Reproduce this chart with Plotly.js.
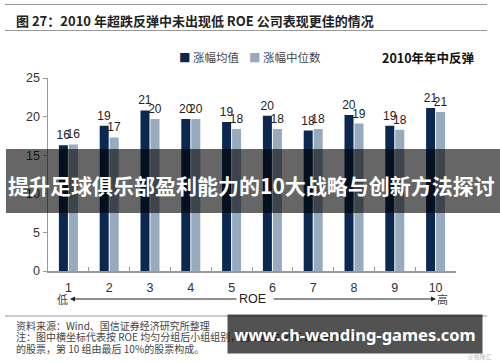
<!DOCTYPE html>
<html>
<head>
<meta charset="utf-8">
<script src="https://cdn.plot.ly/plotly-3.0.1.min.js"></script>
<style>html,body{margin:0;padding:0;background:#fff;}#chart{width:500px;height:362px;}</style>
</head>
<body>
<div id="chart"></div>
<script>
// ---- data ----
const categories = ['1','2','3','4','5','6','7','8','9','10'];
const meanGain   = [16.3, 18.8, 20.8, 19.7, 19.3, 20.1, 18.2, 20.2, 18.8, 21.1];
const medianGain = [16.4, 17.3, 19.7, 19.7, 18.4, 18.4, 18.4, 19.1, 18.3, 20.6];
const seriesNames = ['涨幅均值', '涨幅中位数'];
const yTicks = [0, 5, 10, 15, 20, 25];

const titleText = '图 27：2010 年超跌反弹中未出现低 ROE 公司表现更佳的情况';
const periodText = '2010年年中反弹';
const footer1 = '资料来源：Wind、国信证券经济研究所整理';
const footer2 = '注：图中横坐标代表按 ROE 均匀分组后小组组别，第 1 组由 ROE 最低的 10%';
const footer3 = '的股票，第 10 组由最后 10%的股票构成。';
const bannerText = '提升足球俱乐部盈利能力的10大战略与创新方法探讨';
const watermarkText = 'www.ch-wending-games.com';

// ---- geometry helpers (pixel -> paper) ----
const L = 48, R = 44, T = 78, B = 91, W = 500, H = 362;
const PW = W - L - R, PH = H - T - B;
const px = x => (x - L) / PW;
const py = y => (H - B - y) / PH;

const NAVY = '#0b2850', GREY = '#98aabe';
const CJK = '"Noto Sans CJK SC", sans-serif';
const LAT = '"Liberation Sans", Arial, sans-serif';

const traces = [
  {type:'bar', x:categories, y:meanGain, name:seriesNames[0], marker:{color:NAVY},
   texttemplate:'%{y:.0f}', textposition:'outside', cliponaxis:false, constraintext:'none',
   textfont:{family:LAT, size:12, color:'#222'}, hoverinfo:'skip'},
  {type:'bar', x:categories, y:medianGain, name:seriesNames[1], marker:{color:GREY},
   texttemplate:'%{y:.0f}', textposition:'outside', cliponaxis:false, constraintext:'none',
   textfont:{family:LAT, size:12, color:'#222'}, hoverinfo:'skip'}
];

const ann = [];
// title
ann.push({xref:'paper', yref:'paper', x:px(14), y:py(20), xanchor:'left', yanchor:'middle',
  text:'<b>'+titleText+'</b>', showarrow:false, font:{family:CJK, size:13, color:'#222'}});
// legend
ann.push({xref:'paper', yref:'paper', x:px(177), y:py(57), xanchor:'left', yanchor:'middle',
  text:'<span style="color:'+NAVY+'">■</span> '+seriesNames[0], showarrow:false, font:{family:CJK, size:11.5, color:'#444'}});
ann.push({xref:'paper', yref:'paper', x:px(247), y:py(57), xanchor:'left', yanchor:'middle',
  text:'<span style="color:'+GREY+'">■</span> '+seriesNames[1], showarrow:false, font:{family:CJK, size:11.5, color:'#444'}});
ann.push({xref:'paper', yref:'paper', x:px(380), y:py(57), xanchor:'left', yanchor:'middle',
  text:'<b>'+periodText+'</b>', showarrow:false, font:{family:CJK, size:12.5, color:'#111'}});
// ROE arrow row
ann.push({xref:'paper', yref:'paper', x:px(62), y:py(299), xanchor:'center', yanchor:'middle',
  text:'低', showarrow:false, font:{family:CJK, size:11, color:'#444'}});
ann.push({xref:'paper', yref:'paper', x:px(252), y:py(299), xanchor:'center', yanchor:'middle',
  text:'ROE', showarrow:false, font:{family:LAT, size:12.5, color:'#222'}});
ann.push({xref:'paper', yref:'paper', x:px(442), y:py(299), xanchor:'center', yanchor:'middle',
  text:'高', showarrow:false, font:{family:CJK, size:11, color:'#444'}});
ann.push({xref:'paper', yref:'paper', x:px(70), y:py(299), ax:168, ay:0, text:'', showarrow:true,
  arrowhead:2, arrowsize:1, arrowwidth:1, arrowcolor:'#222'});
ann.push({xref:'paper', yref:'paper', x:px(436), y:py(299), ax:-164, ay:0, text:'', showarrow:true,
  arrowhead:2, arrowsize:1, arrowwidth:1, arrowcolor:'#222'});
// footer
[[footer1,325],[footer2,336.5],[footer3,348]].forEach(([t,y]) => {
  ann.push({xref:'paper', yref:'paper', x:px(14), y:py(y), xanchor:'left', yanchor:'middle',
    text:t, showarrow:false, font:{family:CJK, size:10, color:'#444'}});
});
ann.push({xref:'paper', yref:'paper', x:px(480), y:py(356), xanchor:'center', yanchor:'middle',
  text:'@格隆汇', showarrow:false, font:{family:CJK, size:6, color:'#bbb'}});
// middle banner text
ann.push({xref:'paper', yref:'paper', x:px(251), y:py(185), xanchor:'center', yanchor:'middle',
  text:'<b>'+bannerText+'</b>', showarrow:false, font:{family:CJK, size:21, color:'#fff'}});
// bottom watermark banner (on top of footer text)
ann.push({xref:'paper', yref:'paper', x:px(355), y:py(333.7), xanchor:'center', yanchor:'middle',
  text:'<b>'+watermarkText+'</b>', showarrow:false, width:254, height:38, borderpad:0,
  bgcolor:'rgba(0,0,0,0.68)', font:{family:'"Noto Sans", "Open Sans", sans-serif', size:16.5, color:'#fff'}});

const shapes = [
  {type:'line', xref:'paper', yref:'paper', x0:px(5), x1:px(487), y0:py(4.5), y1:py(4.5), line:{color:'#999', width:1}},
  {type:'line', xref:'paper', yref:'paper', x0:px(5), x1:px(487), y0:py(30.5), y1:py(30.5), line:{color:'#999', width:1}},
  {type:'line', xref:'paper', yref:'paper', x0:px(5), x1:px(487), y0:py(316), y1:py(316), line:{color:'#999', width:1}},
  {type:'rect', xref:'paper', yref:'paper', x0:px(6), x1:px(500), y0:py(149), y1:py(213), layer:'above',
   line:{width:0}, fillcolor:'rgba(0,0,0,0.6)'}
];

const layout = {
  width:W, height:H, margin:{l:L, r:R, t:T, b:B}, paper_bgcolor:'#fff', plot_bgcolor:'#fff',
  showlegend:false, barmode:'group', bargap:0.51, bargroupgap:0.1,
  font:{family:LAT, size:12, color:'#333'},
  xaxis:{type:'category', range:[-0.5, 9.5], showline:true, linecolor:'#999', linewidth:1.5,
    ticks:'inside', tickson:'boundaries', ticklen:4, tickcolor:'#999', showgrid:false, zeroline:false,
    ticklabelstandoff:4, tickfont:{family:LAT, size:12.5, color:'#333'}, fixedrange:true},
  yaxis:{range:[0, 25], tickvals:yTicks, showline:true, linecolor:'#999', linewidth:1.5,
    ticks:'outside', ticklen:4, tickcolor:'#999', showgrid:false, zeroline:false,
    tickfont:{family:LAT, size:12.5, color:'#333'}, fixedrange:true},
  annotations:ann, shapes:shapes
};

Plotly.newPlot('chart', traces, layout, {staticPlot:true, displayModeBar:false});
</script>
</body>
</html>
